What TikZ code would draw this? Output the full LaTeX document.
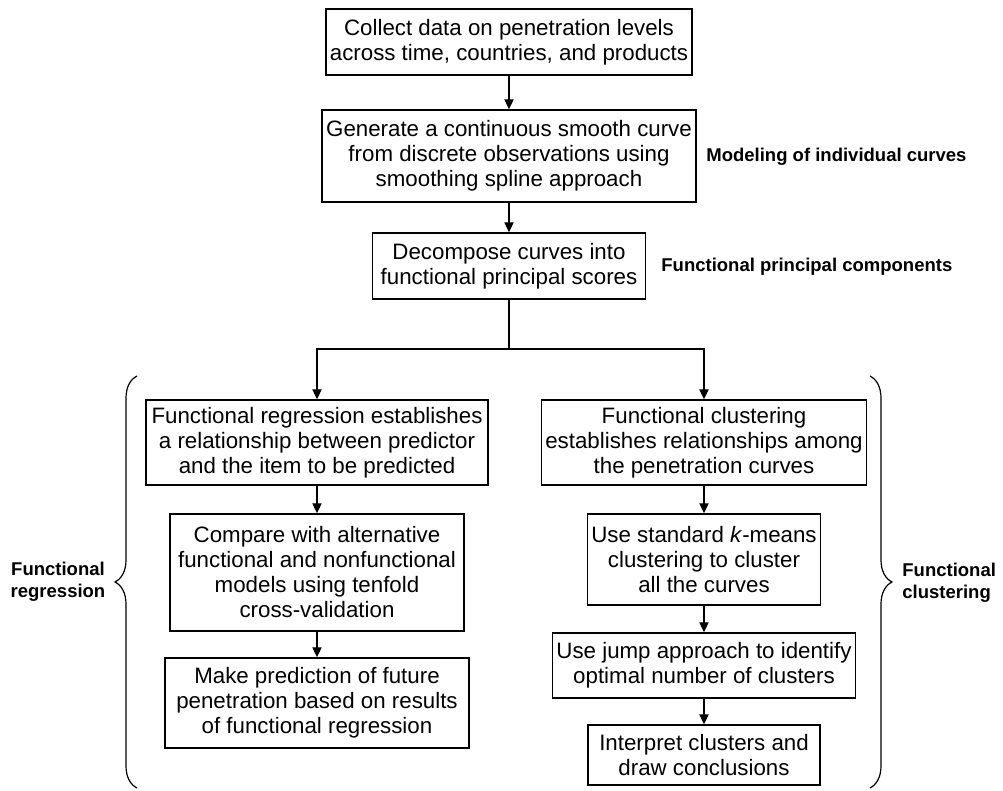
\documentclass[tikz,border=0pt]{standalone}
\usepackage{fontspec}
\setmainfont{Liberation Sans}
\usetikzlibrary{arrows.meta,positioning,decorations.pathreplacing}

\begin{document}
\begin{tikzpicture}[x=0.5pt,y=-0.5pt,
    font=\fontsize{11.15}{12.5}\selectfont,
    box/.style={draw,line width=0.7pt,align=center,inner sep=2pt},
    lab/.style={font=\fontsize{9.25}{10.8}\selectfont\bfseries,inner sep=0pt},
    arr/.style={-{Triangle[length=5pt,width=4.6pt]},line width=0.7pt},
    brc/.style={decorate,decoration={brace,amplitude=11pt},line width=0.6pt}]
  \useasboundingbox (0,0) rectangle (1003,791);
  % trunk
  \node[box,minimum width=178pt,minimum height=33pt] (collect) at (509,42)
    {Collect data on penetration levels\\across time, countries, and products};
  \node[box,minimum width=183.5pt,minimum height=46pt] (smooth) at (509,156)
    {Generate a continuous smooth curve\\from discrete observations using\\smoothing spline approach};
  \node[box,minimum width=136.5pt,minimum height=33pt] (decomp) at (509,266)
    {Decompose curves into\\functional principal scores};
  \coordinate (split) at (509,349);
  % regression column
  \node[box,minimum width=171pt,minimum height=42.5pt] (freg) at (317,442.5)
    {Functional regression establishes\\a relationship between predictor\\and the item to be predicted};
  \node[box,minimum width=147pt,minimum height=58.5pt] (compare) at (317,572.5)
    {Compare with alternative\\functional and nonfunctional\\models using tenfold\\cross-validation};
  \node[box,minimum width=152pt,minimum height=45pt] (predict) at (317,703)
    {Make prediction of future\\penetration based on results\\of functional regression};
  % clustering column
  \node[box,minimum width=124pt,minimum height=42.5pt] (fclu) at (704,442.5)
    {Functional clustering\\establishes relationships among\\the penetration curves};
  \node[box,minimum width=113pt,minimum height=45.5pt] (kmeans) at (704,559.5)
    {Use standard \textit{k}-means\\clustering to cluster\\all the curves};
  \node[box,minimum width=148pt,minimum height=32.5pt] (jump) at (704,665.5)
    {Use jump approach to identify\\optimal number of clusters};
  \node[box,minimum width=116pt,minimum height=30pt] (interp) at (704,755)
    {Interpret clusters and\\draw conclusions};
  % side labels
  \node[lab,anchor=west] (lmodel) at (706,157) {Modeling of individual curves};
  \node[lab,anchor=west] (lfpc) at (661,267) {Functional principal components};
  \node[lab,align=center] (lreg) at (58,582) {Functional\\regression};
  \node[lab,align=left,anchor=west] (lclu) at (902,583) {Functional\\clustering};
  % braces
  \coordinate (lbb) at (137,788);
  \coordinate (lbt) at (137,376);
  \coordinate (rbt) at (870,376);
  \coordinate (rbb) at (870,788);
  \draw[brc] (lbb) -- (lbt);
  \draw[brc] (rbt) -- (rbb);
  % connectors
  \draw[arr] (collect) -- (smooth);
  \draw[arr] (smooth) -- (decomp);
  \draw[line width=0.7pt] (decomp) -- (split);
  \draw[arr] (split) -| (freg.north);
  \draw[arr] (split) -| (fclu.north);
  \draw[arr] (freg) -- (compare);
  \draw[arr] (compare) -- (predict);
  \draw[arr] (fclu) -- (kmeans);
  \draw[arr] (kmeans) -- (jump);
  \draw[arr] (jump) -- (interp);
\end{tikzpicture}
\end{document}
